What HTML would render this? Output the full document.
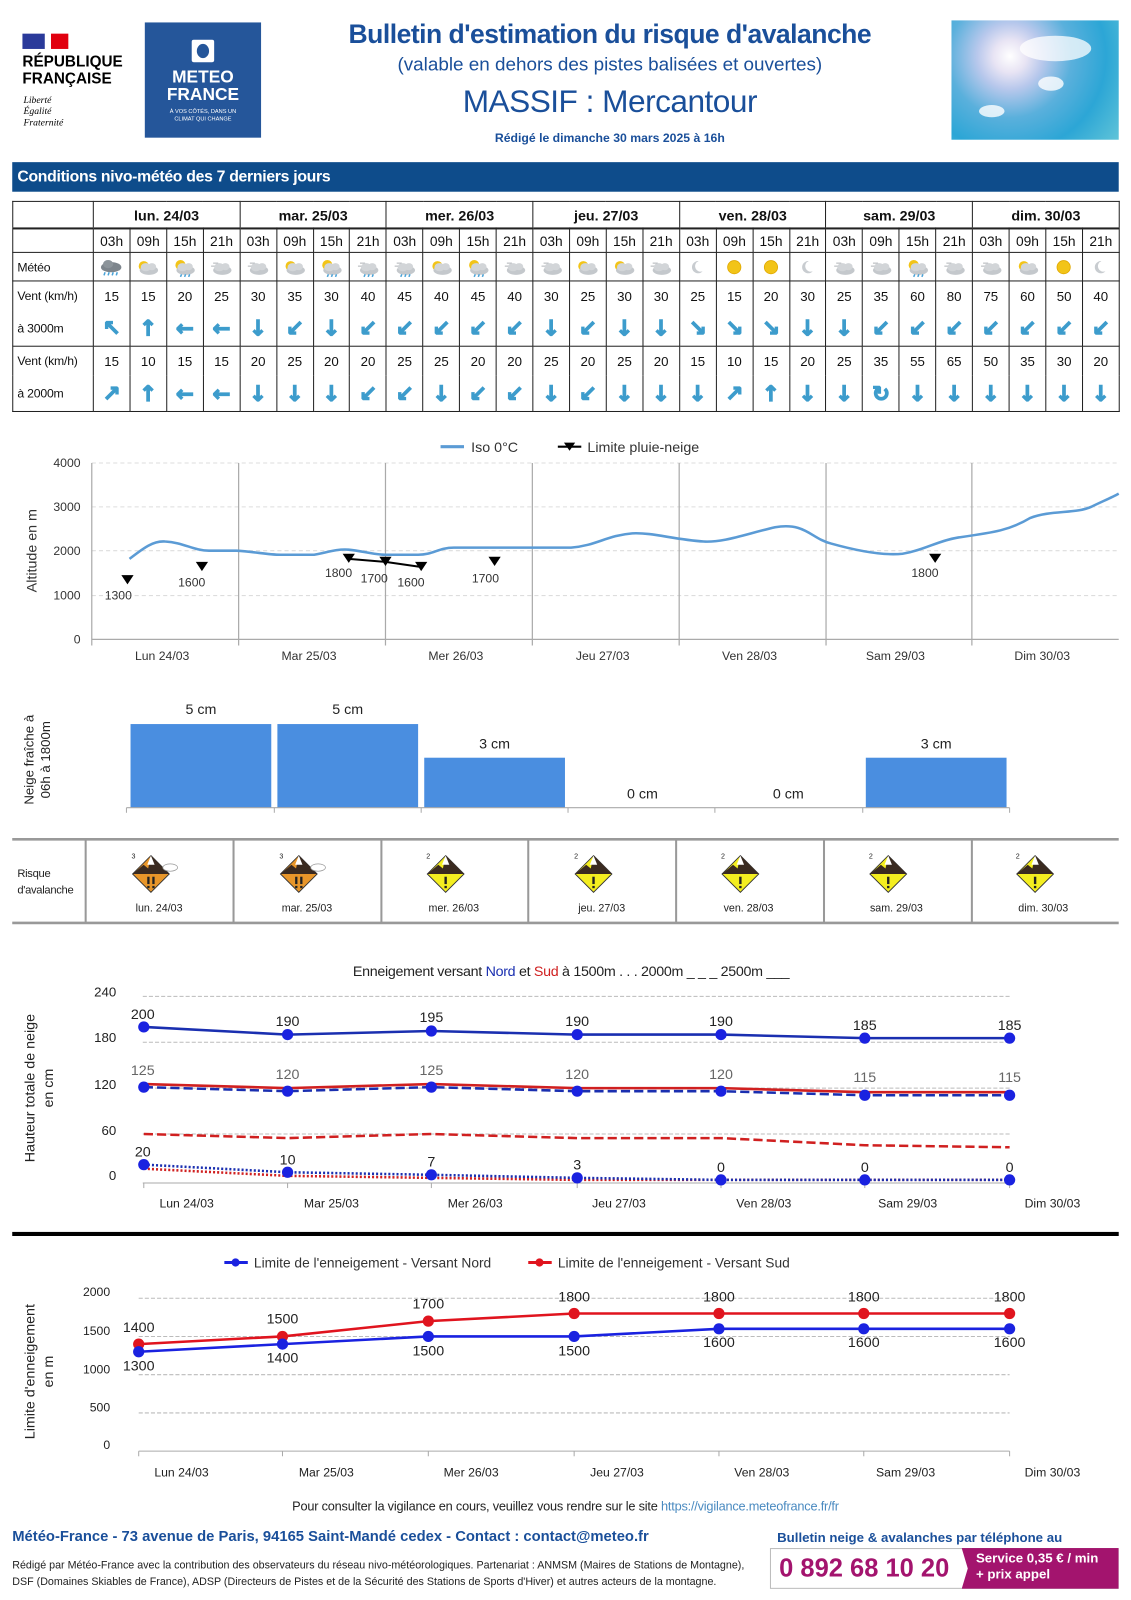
<!DOCTYPE html>
<html><head><meta charset="utf-8">
<style>
html,body{margin:0;padding:0;background:#fff;width:1131px;height:1600px;overflow:hidden}
#w{position:absolute;left:0;top:0;width:1109px;height:1569px;transform:scale(1.0198);transform-origin:0 0;font-family:"Liberation Sans",sans-serif}
.ab{position:absolute}
table.t{position:absolute;left:12px;top:197px;width:1086px;border-collapse:collapse;table-layout:fixed;font-family:"Liberation Sans Narrow","Liberation Sans",sans-serif;font-size:13px;color:#111}
table.t td{border:1px solid #222;text-align:center;padding:0;overflow:hidden;white-space:nowrap}
table.t td.l{text-align:left;padding-left:4px;font-size:12px;letter-spacing:-0.2px}
table.t tr.d td{font-weight:bold;font-size:14px;height:25px;border-bottom:2px solid #222}
table.t tr.h td{height:22px;font-size:13.5px}
table.t tr.m td{height:27px}
table.t tr.v td{height:28px;border-bottom:none}
table.t tr.a td{height:35px;border-top:none;color:#3d9ccc;font-family:"DejaVu Sans",sans-serif;font-size:21px;font-weight:bold;-webkit-text-stroke:1.2px #3d9ccc}
table.t tr.a td.l{color:#111;font-family:"Liberation Sans Narrow","Liberation Sans",sans-serif;font-size:12px;font-weight:normal;-webkit-text-stroke:0}
table.t svg{display:block;margin:0 auto}
</style></head><body><div id="w">
<svg width="0" height="0" style="position:absolute">
<defs>
<g id="cl"><ellipse cx="16" cy="13" rx="9" ry="4.5" fill="#c4c8cc"/><ellipse cx="13" cy="10" rx="5" ry="4" fill="#d2d5d8"/><ellipse cx="19" cy="9.5" rx="4" ry="3.5" fill="#d2d5d8"/></g>
<g id="wr"><ellipse cx="15" cy="10" rx="10" ry="5" fill="#7d858c"/><ellipse cx="12" cy="7" rx="5" ry="4" fill="#8c949a"/><path d="M9 15l-1 3M13 15l-1 3M17 15l-1 3M21 15l-1 3" stroke="#4aa3d8" stroke-width="1.5"/></g>
<g id="ws"><circle cx="11" cy="9" r="5" fill="#f2c418"/><use href="#cl"/></g>
<g id="wsr"><circle cx="11" cy="8" r="5" fill="#f2c418"/><use href="#cl"/><path d="M12 17l-1 2.5M16 17l-1 2.5M20 17l-1 2.5" stroke="#4aa3d8" stroke-width="1.5"/></g>
<g id="wc"><path d="M5 9h7M7 6h5" stroke="#b0b4b8" stroke-width="1"/><use href="#cl"/></g>
<g id="wcr"><path d="M5 9h7M7 6h5" stroke="#b0b4b8" stroke-width="1"/><use href="#cl"/><path d="M12 17l-1 2.5M16 17l-1 2.5M20 17l-1 2.5" stroke="#4aa3d8" stroke-width="1.5"/></g>
<g id="sun"><circle cx="15" cy="10" r="6.5" fill="#f2c418" stroke="#e0a800" stroke-width=".8"/></g>
<g id="moon"><path d="M16 4a6 6 0 1 0 4 10a5 5 0 1 1 -4 -10z" fill="#c8ccd0"/></g>
<g id="av3"><path d="M0 -20L20 0L0 20L-20 0Z" fill="#e8962a" stroke="#333" stroke-width="1"/><path d="M-20 0L-8 -10L-3 -6L0 -20L10 -10L20 0Z" fill="#3a2a20"/><path d="M0 -20L-4 -10L4 -10Z" fill="#fff"/><rect x="-4" y="3" width="2.5" height="8" fill="#222"/><rect x="1.5" y="3" width="2.5" height="8" fill="#222"/><rect x="-4" y="13" width="2.5" height="2.5" fill="#222"/><rect x="1.5" y="13" width="2.5" height="2.5" fill="#222"/><ellipse cx="21" cy="-7" rx="8" ry="4" fill="#fff" stroke="#999" stroke-width=".8"/></g>
<g id="av2"><path d="M0 -20L20 0L0 20L-20 0Z" fill="#f4ee20" stroke="#333" stroke-width="1"/><path d="M-20 0L-8 -10L-3 -6L0 -20L10 -10L20 0Z" fill="#3a2a20"/><path d="M0 -20L-4 -10L4 -10Z" fill="#fff"/><rect x="-1.3" y="3" width="2.6" height="8" fill="#222"/><rect x="-1.3" y="13" width="2.6" height="2.5" fill="#222"/></g>
</defs></svg>

<div class="ab" style="left:22px;top:33px;width:22px;height:15px;background:#2a3a9a"></div>
<div class="ab" style="left:44px;top:33px;width:8px;height:15px;background:#fff"></div>
<div class="ab" style="left:50px;top:33px;width:17px;height:15px;background:#e1000f"></div>
<div class="ab" style="left:22px;top:52px;font-weight:bold;font-size:15px;line-height:17px;color:#000">RÉPUBLIQUE<br>FRANÇAISE</div>
<div class="ab" style="left:23px;top:94px;font-family:'Liberation Serif',serif;font-style:italic;font-size:9.5px;line-height:11px">Liberté<br>Égalité<br>Fraternité</div>
<div class="ab" style="left:142px;top:22px;width:114px;height:113px;background:#25569a;color:#fff;text-align:center">
 <div style="margin:17px auto 0;width:22px;height:22px;background:#fff;border-radius:2px;position:relative"><div style="position:absolute;left:5px;top:4px;width:12px;height:14px;border-radius:50%;background:#25569a"></div></div>
 <div style="font-weight:bold;font-size:17px;line-height:17px;margin-top:6px">METEO<br>FRANCE</div>
 <div style="font-size:5.5px;line-height:7px;margin-top:6px">À VOS CÔTÉS, DANS UN<br>CLIMAT QUI CHANGE</div>
</div>
<div class="ab" style="left:280px;top:16px;width:636px;text-align:center;color:#1a4f9a">
 <div style="font-weight:bold;font-size:26px;line-height:34px;letter-spacing:-0.5px">Bulletin d'estimation du risque d'avalanche</div>
 <div style="font-size:18.5px;line-height:26px">(valable en dehors des pistes balisées et ouvertes)</div>
 <div style="font-size:31px;line-height:44px;margin-top:2px;letter-spacing:-0.5px">MASSIF : Mercantour</div>
 <div style="font-size:12px;line-height:18px;margin-top:4px;font-weight:bold">Rédigé le dimanche 30 mars 2025 à 16h</div>
</div>
<div class="ab" style="left:933px;top:20px;width:164px;height:117px;background:radial-gradient(circle at 35% 30%,#fff 0,#e8e4f4 12%,#b8c8ec 24%,#5ab0dc 45%,#2ca6d6 70%,#60c4d8 100%)"></div>
<div class="ab" style="left:1000px;top:35px;width:70px;height:25px;border-radius:50%;background:rgba(255,255,255,.75)"></div>
<div class="ab" style="left:960px;top:103px;width:25px;height:12px;border-radius:50%;background:rgba(255,255,255,.8)"></div>
<div class="ab" style="left:1018px;top:75px;width:25px;height:14px;border-radius:50%;background:rgba(255,255,255,.8)"></div>

<div class="ab" style="left:12px;top:159px;width:1085px;height:29px;background:#0e4c8b;color:#fff;font-weight:bold;font-size:15.5px;line-height:29px;font-family:'Liberation Sans Narrow','Liberation Sans',sans-serif"><span style="padding-left:5px;letter-spacing:-0.3px">Conditions nivo-météo des 7 derniers jours</span></div>

<table class="t">
<colgroup><col style="width:79px"><col span="28"></colgroup>
<tr class="d"><td></td><td colspan="4">lun. 24/03</td><td colspan="4">mar. 25/03</td><td colspan="4">mer. 26/03</td><td colspan="4">jeu. 27/03</td><td colspan="4">ven. 28/03</td><td colspan="4">sam. 29/03</td><td colspan="4">dim. 30/03</td></tr>
<tr class="h"><td></td><td>03h</td><td>09h</td><td>15h</td><td>21h</td><td>03h</td><td>09h</td><td>15h</td><td>21h</td><td>03h</td><td>09h</td><td>15h</td><td>21h</td><td>03h</td><td>09h</td><td>15h</td><td>21h</td><td>03h</td><td>09h</td><td>15h</td><td>21h</td><td>03h</td><td>09h</td><td>15h</td><td>21h</td><td>03h</td><td>09h</td><td>15h</td><td>21h</td></tr>
<tr class="m"><td class="l">Météo</td>
<td><svg width="30" height="20"><use href="#wr"/></svg></td><td><svg width="30" height="20"><use href="#ws"/></svg></td><td><svg width="30" height="20"><use href="#wsr"/></svg></td><td><svg width="30" height="20"><use href="#wc"/></svg></td>
<td><svg width="30" height="20"><use href="#wc"/></svg></td><td><svg width="30" height="20"><use href="#ws"/></svg></td><td><svg width="30" height="20"><use href="#wsr"/></svg></td><td><svg width="30" height="20"><use href="#wcr"/></svg></td>
<td><svg width="30" height="20"><use href="#wcr"/></svg></td><td><svg width="30" height="20"><use href="#ws"/></svg></td><td><svg width="30" height="20"><use href="#wsr"/></svg></td><td><svg width="30" height="20"><use href="#wc"/></svg></td>
<td><svg width="30" height="20"><use href="#wc"/></svg></td><td><svg width="30" height="20"><use href="#ws"/></svg></td><td><svg width="30" height="20"><use href="#ws"/></svg></td><td><svg width="30" height="20"><use href="#wc"/></svg></td>
<td><svg width="30" height="20"><use href="#moon"/></svg></td><td><svg width="30" height="20"><use href="#sun"/></svg></td><td><svg width="30" height="20"><use href="#sun"/></svg></td><td><svg width="30" height="20"><use href="#moon"/></svg></td>
<td><svg width="30" height="20"><use href="#wc"/></svg></td><td><svg width="30" height="20"><use href="#wc"/></svg></td><td><svg width="30" height="20"><use href="#wsr"/></svg></td><td><svg width="30" height="20"><use href="#wc"/></svg></td>
<td><svg width="30" height="20"><use href="#wc"/></svg></td><td><svg width="30" height="20"><use href="#ws"/></svg></td><td><svg width="30" height="20"><use href="#sun"/></svg></td><td><svg width="30" height="20"><use href="#moon"/></svg></td></tr>
<tr class="v"><td class="l">Vent (km/h)</td><td>15</td><td>15</td><td>20</td><td>25</td><td>30</td><td>35</td><td>30</td><td>40</td><td>45</td><td>40</td><td>45</td><td>40</td><td>30</td><td>25</td><td>30</td><td>30</td><td>25</td><td>15</td><td>20</td><td>30</td><td>25</td><td>35</td><td>60</td><td>80</td><td>75</td><td>60</td><td>50</td><td>40</td></tr>
<tr class="a"><td class="l">à 3000m</td><td>↖</td><td>↑</td><td>←</td><td>←</td><td>↓</td><td>↙</td><td>↓</td><td>↙</td><td>↙</td><td>↙</td><td>↙</td><td>↙</td><td>↓</td><td>↙</td><td>↓</td><td>↓</td><td>↘</td><td>↘</td><td>↘</td><td>↓</td><td>↓</td><td>↙</td><td>↙</td><td>↙</td><td>↙</td><td>↙</td><td>↙</td><td>↙</td></tr>
<tr class="v"><td class="l">Vent (km/h)</td><td>15</td><td>10</td><td>15</td><td>15</td><td>20</td><td>25</td><td>20</td><td>20</td><td>25</td><td>25</td><td>20</td><td>20</td><td>25</td><td>20</td><td>25</td><td>20</td><td>15</td><td>10</td><td>15</td><td>20</td><td>25</td><td>35</td><td>55</td><td>65</td><td>50</td><td>35</td><td>30</td><td>20</td></tr>
<tr class="a"><td class="l">à 2000m</td><td>↗</td><td>↑</td><td>←</td><td>←</td><td>↓</td><td>↓</td><td>↓</td><td>↙</td><td>↙</td><td>↓</td><td>↙</td><td>↙</td><td>↓</td><td>↙</td><td>↓</td><td>↓</td><td>↓</td><td>↗</td><td>↑</td><td>↓</td><td>↓</td><td>↻</td><td>↓</td><td>↓</td><td>↓</td><td>↓</td><td>↓</td><td>↓</td></tr>
</table>

<svg class="ab" style="left:0;top:0" width="1109" height="1569" font-family="Liberation Sans, sans-serif">
<g font-size="13" fill="#333">
<line x1="432" y1="438" x2="455" y2="438" stroke="#5b9bd5" stroke-width="3"/><text x="462" y="443" font-size="14">Iso 0°C</text>
<line x1="547" y1="438" x2="570" y2="438" stroke="#000" stroke-width="2"/><path d="M553 434h11l-5.5 8z" fill="#000"/><text x="576" y="443" font-size="14">Limite pluie-neige</text>
<g stroke="#ddd" stroke-dasharray="4 3"><line x1="90" y1="454" x2="1097" y2="454"/><line x1="90" y1="497" x2="1097" y2="497"/><line x1="90" y1="540" x2="1097" y2="540"/><line x1="90" y1="584" x2="1097" y2="584"/></g>
<g stroke="#aaa" stroke-width="1.2"><line x1="90" y1="454" x2="90" y2="633"/><line x1="234" y1="454" x2="234" y2="633"/><line x1="378" y1="454" x2="378" y2="633"/><line x1="522" y1="454" x2="522" y2="633"/><line x1="666" y1="454" x2="666" y2="633"/><line x1="810" y1="454" x2="810" y2="633"/><line x1="953" y1="454" x2="953" y2="633"/><line x1="90" y1="627" x2="1097" y2="627"/></g>
<g text-anchor="end" font-size="12"><text x="79" y="458">4000</text><text x="79" y="501">3000</text><text x="79" y="544">2000</text><text x="79" y="588">1000</text><text x="79" y="631">0</text></g>
<text transform="translate(36,540) rotate(-90)" text-anchor="middle" font-size="14">Altitude en m</text>
<g text-anchor="middle" font-size="12"><text x="159" y="647">Lun 24/03</text><text x="303" y="647">Mar 25/03</text><text x="447" y="647">Mer 26/03</text><text x="591" y="647">Jeu 27/03</text><text x="735" y="647">Ven 28/03</text><text x="878" y="647">Sam 29/03</text><text x="1022" y="647">Dim 30/03</text></g>
<path d="M127 548C140 538 150 530 162 531C180 532 190 540 205 540L232 540C250 541 262 544 275 544L308 544C320 542 330 538 342 539C355 540 365 544 378 544L410 544C425 544 430 537 445 537L560 537C585 535 595 525 620 523C640 522 660 529 690 531C710 532 730 524 760 517C790 512 795 528 815 533C840 540 865 545 885 543C905 540 920 530 940 527C975 522 990 520 1010 508C1030 500 1055 504 1070 497C1080 492 1090 488 1097 484" fill="none" stroke="#5b9bd5" stroke-width="2.5"/>
<g fill="#000"><path d="M119 564h12l-6 9z"/><path d="M192 551h12l-6 9z"/><path d="M336 543h12l-6 9z"/><path d="M372 546h12l-6 9z"/><path d="M407 551h12l-6 9z"/><path d="M479 546h12l-6 9z"/><path d="M911 543h12l-6 9z"/></g>
<polyline points="342,548 378,551 413,556" fill="none" stroke="#000" stroke-width="2"/>
<g text-anchor="middle" font-size="12"><text x="116" y="588">1300</text><text x="188" y="575">1600</text><text x="332" y="566">1800</text><text x="367" y="571">1700</text><text x="403" y="575">1600</text><text x="476" y="571">1700</text><text x="907" y="566">1800</text></g>
</g>
<g font-size="14" fill="#222" text-anchor="middle">
<text transform="translate(33,745) rotate(-90)" font-size="13">Neige fraîche à</text>
<text transform="translate(49,745) rotate(-90)" font-size="13">06h à 1800m</text>
<g fill="#4a8ee0"><rect x="128" y="710" width="138" height="82"/><rect x="272" y="710" width="138" height="82"/><rect x="416" y="743" width="138" height="49"/><rect x="849" y="743" width="138" height="49"/></g>
<g stroke="#aaa"><line x1="124" y1="792" x2="990" y2="792"/><line x1="124" y1="792" x2="124" y2="797"/><line x1="269" y1="792" x2="269" y2="797"/><line x1="413" y1="792" x2="413" y2="797"/><line x1="557" y1="792" x2="557" y2="797"/><line x1="701" y1="792" x2="701" y2="797"/><line x1="846" y1="792" x2="846" y2="797"/><line x1="990" y1="792" x2="990" y2="797"/></g>
<text x="197" y="700">5 cm</text><text x="341" y="700">5 cm</text><text x="485" y="734">3 cm</text><text x="630" y="783">0 cm</text><text x="773" y="783">0 cm</text><text x="918" y="734">3 cm</text>
</g>
<g stroke="#999" stroke-width="2.5"><line x1="12" y1="823" x2="1097" y2="823"/><line x1="12" y1="905" x2="1097" y2="905"/></g>
<g stroke="#999" stroke-width="2"><line x1="84" y1="823" x2="84" y2="905"/><line x1="229" y1="823" x2="229" y2="905"/><line x1="374" y1="823" x2="374" y2="905"/><line x1="518" y1="823" x2="518" y2="905"/><line x1="663" y1="823" x2="663" y2="905"/><line x1="808" y1="823" x2="808" y2="905"/><line x1="953" y1="823" x2="953" y2="905"/></g>
<g font-family="Liberation Sans Narrow, Liberation Sans, sans-serif" font-size="11" fill="#222" letter-spacing="-0.3"><text x="17" y="860">Risque</text><text x="17" y="876">d'avalanche</text></g>
<g transform="translate(148,857) scale(0.9)"><use href="#av3"/></g><g transform="translate(293,857) scale(0.9)"><use href="#av3"/></g>
<g transform="translate(437,857) scale(0.9)"><use href="#av2"/></g><g transform="translate(582,857) scale(0.9)"><use href="#av2"/></g><g transform="translate(726,857) scale(0.9)"><use href="#av2"/></g><g transform="translate(871,857) scale(0.9)"><use href="#av2"/></g><g transform="translate(1015,857) scale(0.9)"><use href="#av2"/></g>
<g font-size="7" fill="#222"><text x="129" y="842">3</text><text x="274" y="842">3</text><text x="418" y="842">2</text><text x="563" y="842">2</text><text x="707" y="842">2</text><text x="852" y="842">2</text><text x="996" y="842">2</text></g>
<g font-family="Liberation Sans Narrow, Liberation Sans, sans-serif" font-size="10.5" fill="#222" text-anchor="middle"><text x="156" y="894">lun. 24/03</text><text x="301" y="894">mar. 25/03</text><text x="445" y="894">mer. 26/03</text><text x="590" y="894">jeu. 27/03</text><text x="734" y="894">ven. 28/03</text><text x="879" y="894">sam. 29/03</text><text x="1023" y="894">dim. 30/03</text></g>
<text x="560" y="957" text-anchor="middle" font-family="Liberation Sans Narrow, Liberation Sans, sans-serif" font-size="14" fill="#222" letter-spacing="-0.3">Enneigement versant <tspan fill="#1a2fb0">Nord</tspan> et <tspan fill="#d02020">Sud</tspan> à  1500m . . .  2000m _ _ _  2500m ___</text>
<g stroke="#bbb" stroke-dasharray="4 2"><line x1="140" y1="977" x2="990" y2="977"/><line x1="140" y1="1022" x2="990" y2="1022"/><line x1="140" y1="1067" x2="990" y2="1067"/><line x1="140" y1="1112" x2="990" y2="1112"/></g>
<g stroke="#aaa"><line x1="140" y1="1160" x2="990" y2="1160"/><line x1="141" y1="1160" x2="141" y2="1165"/><line x1="282" y1="1160" x2="282" y2="1165"/><line x1="423" y1="1160" x2="423" y2="1165"/><line x1="566" y1="1160" x2="566" y2="1165"/><line x1="707" y1="1160" x2="707" y2="1165"/><line x1="848" y1="1160" x2="848" y2="1165"/><line x1="990" y1="1160" x2="990" y2="1165"/></g>
<g font-size="13" fill="#222" text-anchor="end"><text x="114" y="977">240</text><text x="114" y="1022">180</text><text x="114" y="1068">120</text><text x="114" y="1113">60</text><text x="114" y="1157">0</text></g>
<text transform="translate(34,1067) rotate(-90)" text-anchor="middle" font-size="14" fill="#222">Hauteur totale de neige</text>
<text transform="translate(52,1067) rotate(-90)" text-anchor="middle" font-size="14" fill="#222">en cm</text>
<g text-anchor="middle" font-size="12" fill="#222"><text x="183" y="1184">Lun 24/03</text><text x="325" y="1184">Mar 25/03</text><text x="466" y="1184">Mer 26/03</text><text x="607" y="1184">Jeu 27/03</text><text x="749" y="1184">Ven 28/03</text><text x="890" y="1184">Sam 29/03</text><text x="1032" y="1184">Dim 30/03</text></g>
<polyline points="141,1112 282,1116 423,1112 566,1116 707,1116 848,1123 990,1125" fill="none" stroke="#d02020" stroke-width="2.5" stroke-dasharray="9 4"/>
<polyline points="141,1146 282,1153 423,1155 566,1157 707,1157 848,1157 990,1157" fill="none" stroke="#d02020" stroke-width="2.5" stroke-dasharray="2 2"/>
<polyline points="141,1142 282,1149.5 423,1152 566,1155 707,1157 848,1157 990,1157" fill="none" stroke="#1a2fb0" stroke-width="2.5" stroke-dasharray="2 2"/>
<polyline points="141,1063 282,1067 423,1063 566,1067 707,1067 848,1071 990,1071" fill="none" stroke="#d02020" stroke-width="2.5"/>
<polyline points="141,1066 282,1070 423,1066 566,1070 707,1070 848,1074 990,1074" fill="none" stroke="#1a2fb0" stroke-width="2.5" stroke-dasharray="9 4"/>
<polyline points="141,1007 282,1014.5 423,1011 566,1014.5 707,1014.5 848,1018 990,1018" fill="none" stroke="#1a2fb0" stroke-width="2.5"/>
<g fill="#1a22e0"><circle cx="141" cy="1007" r="5.5"/><circle cx="282" cy="1014.5" r="5.5"/><circle cx="423" cy="1011" r="5.5"/><circle cx="566" cy="1014.5" r="5.5"/><circle cx="707" cy="1014.5" r="5.5"/><circle cx="848" cy="1018" r="5.5"/><circle cx="990" cy="1018" r="5.5"/>
<circle cx="141" cy="1066" r="5.5"/><circle cx="282" cy="1070" r="5.5"/><circle cx="423" cy="1066" r="5.5"/><circle cx="566" cy="1070" r="5.5"/><circle cx="707" cy="1070" r="5.5"/><circle cx="848" cy="1074" r="5.5"/><circle cx="990" cy="1074" r="5.5"/>
<circle cx="141" cy="1142" r="5.5"/><circle cx="282" cy="1149.5" r="5.5"/><circle cx="423" cy="1152" r="5.5"/><circle cx="566" cy="1155" r="5.5"/><circle cx="707" cy="1157" r="5.5"/><circle cx="848" cy="1157" r="5.5"/><circle cx="990" cy="1157" r="5.5"/></g>
<g text-anchor="middle" font-size="14" fill="#222"><text x="140" y="999">200</text><text x="282" y="1006">190</text><text x="423" y="1002">195</text><text x="566" y="1006">190</text><text x="707" y="1006">190</text><text x="848" y="1010">185</text><text x="990" y="1010">185</text>
<text x="140" y="1134">20</text><text x="282" y="1142">10</text><text x="423" y="1144">7</text><text x="566" y="1147">3</text><text x="707" y="1149">0</text><text x="848" y="1149">0</text><text x="990" y="1149">0</text></g>
<g text-anchor="middle" font-size="14" fill="#666"><text x="140" y="1054">125</text><text x="282" y="1058">120</text><text x="423" y="1054">125</text><text x="566" y="1058">120</text><text x="707" y="1058">120</text><text x="848" y="1061">115</text><text x="990" y="1061">115</text></g>
<rect x="12" y="1208" width="1085" height="4" fill="#000"/>
<g font-size="13.5" fill="#333"><line x1="220" y1="1238" x2="243" y2="1238" stroke="#1a22e0" stroke-width="3"/><circle cx="231" cy="1238" r="4" fill="#1a22e0"/><text x="249" y="1243">Limite de l'enneigement - Versant Nord</text>
<line x1="518" y1="1238" x2="541" y2="1238" stroke="#e0141e" stroke-width="3"/><circle cx="529" cy="1238" r="4" fill="#e0141e"/><text x="547" y="1243">Limite de l'enneigement - Versant Sud</text></g>
<g stroke="#bbb" stroke-dasharray="4 2"><line x1="136" y1="1273" x2="990" y2="1273"/><line x1="136" y1="1310.5" x2="990" y2="1310.5"/><line x1="136" y1="1348" x2="990" y2="1348"/><line x1="136" y1="1385.5" x2="990" y2="1385.5"/></g>
<g stroke="#aaa"><line x1="136" y1="1423" x2="990" y2="1423"/><line x1="136" y1="1423" x2="136" y2="1428"/><line x1="277" y1="1423" x2="277" y2="1428"/><line x1="420" y1="1423" x2="420" y2="1428"/><line x1="563" y1="1423" x2="563" y2="1428"/><line x1="705" y1="1423" x2="705" y2="1428"/><line x1="847" y1="1423" x2="847" y2="1428"/><line x1="990" y1="1423" x2="990" y2="1428"/></g>
<g font-size="12" fill="#222" text-anchor="end"><text x="108" y="1271">2000</text><text x="108" y="1309">1500</text><text x="108" y="1347">1000</text><text x="108" y="1384">500</text><text x="108" y="1421">0</text></g>
<text transform="translate(34,1345) rotate(-90)" text-anchor="middle" font-size="14" fill="#222">Limite d'enneigement</text>
<text transform="translate(52,1345) rotate(-90)" text-anchor="middle" font-size="14" fill="#222">en m</text>
<g text-anchor="middle" font-size="12" fill="#222"><text x="178" y="1448">Lun 24/03</text><text x="320" y="1448">Mar 25/03</text><text x="462" y="1448">Mer 26/03</text><text x="605" y="1448">Jeu 27/03</text><text x="747" y="1448">Ven 28/03</text><text x="888" y="1448">Sam 29/03</text><text x="1032" y="1448">Dim 30/03</text></g>
<polyline points="136,1318 277,1310.5 420,1295.5 563,1288 705,1288 847,1288 990,1288" fill="none" stroke="#e0141e" stroke-width="2.5"/>
<polyline points="136,1325.5 277,1318 420,1310.5 563,1310.5 705,1303 847,1303 990,1303" fill="none" stroke="#1a22e0" stroke-width="2.5"/>
<g fill="#e0141e"><circle cx="136" cy="1318" r="5.5"/><circle cx="277" cy="1310.5" r="5.5"/><circle cx="420" cy="1295.5" r="5.5"/><circle cx="563" cy="1288" r="5.5"/><circle cx="705" cy="1288" r="5.5"/><circle cx="847" cy="1288" r="5.5"/><circle cx="990" cy="1288" r="5.5"/></g>
<g fill="#1a22e0"><circle cx="136" cy="1325.5" r="5.5"/><circle cx="277" cy="1318" r="5.5"/><circle cx="420" cy="1310.5" r="5.5"/><circle cx="563" cy="1310.5" r="5.5"/><circle cx="705" cy="1303" r="5.5"/><circle cx="847" cy="1303" r="5.5"/><circle cx="990" cy="1303" r="5.5"/></g>
<g text-anchor="middle" font-size="14" fill="#222"><text x="136" y="1306">1400</text><text x="277" y="1298">1500</text><text x="420" y="1283">1700</text><text x="563" y="1276">1800</text><text x="705" y="1276">1800</text><text x="847" y="1276">1800</text><text x="990" y="1276">1800</text>
<text x="136" y="1344">1300</text><text x="277" y="1336">1400</text><text x="420" y="1329">1500</text><text x="563" y="1329">1500</text><text x="705" y="1321">1600</text><text x="847" y="1321">1600</text><text x="990" y="1321">1600</text></g>
</svg>

<div class="ab" style="left:0;top:1470px;width:1109px;text-align:center;font-family:'Liberation Sans Narrow','Liberation Sans',sans-serif;font-size:12.5px;color:#222;letter-spacing:-0.2px">Pour consulter la vigilance en cours, veuillez vous rendre sur le site <span style="color:#4a8ac0">https://vigilance.meteofrance.fr/fr</span></div>
<div class="ab" style="left:12px;top:1499px;font-weight:bold;font-size:14.5px;color:#1a4f9a">Météo-France - 73 avenue de Paris, 94165 Saint-Mandé cedex - Contact : contact@meteo.fr</div>
<div class="ab" style="left:762px;top:1500px;font-weight:bold;font-size:13px;color:#1a4f9a">Bulletin neige &amp; avalanches par téléphone au</div>
<div class="ab" style="left:12px;top:1527px;width:730px;font-family:'Liberation Sans Narrow','Liberation Sans',sans-serif;font-size:10.5px;line-height:16px;color:#222">Rédigé par Météo-France avec la contribution des observateurs du réseau nivo-météorologiques. Partenariat : ANMSM (Maires de Stations de Montagne), DSF (Domaines Skiables de France), ADSP (Directeurs de Pistes et de la Sécurité des Stations de Sports d'Hiver) et autres acteurs de la montagne.</div>
<div class="ab" style="left:755px;top:1518px;width:340px;height:38px;border:1px solid #bbb"></div>
<div class="ab" style="left:764px;top:1521px;font-weight:bold;font-size:25px;color:#a3146e;line-height:34px">0 892 68 10 20</div>
<div class="ab" style="left:943px;top:1518px;width:154px;height:40px;background:#a3146e;clip-path:polygon(0 0,100% 0,100% 100%,0 100%,6px 50%);"></div>
<div class="ab" style="left:957px;top:1520px;color:#fff;font-family:'Liberation Sans Narrow','Liberation Sans',sans-serif;font-size:13px;line-height:16px;font-weight:bold">Service 0,35 € / min<br>+ prix appel</div>
</div></body></html>
